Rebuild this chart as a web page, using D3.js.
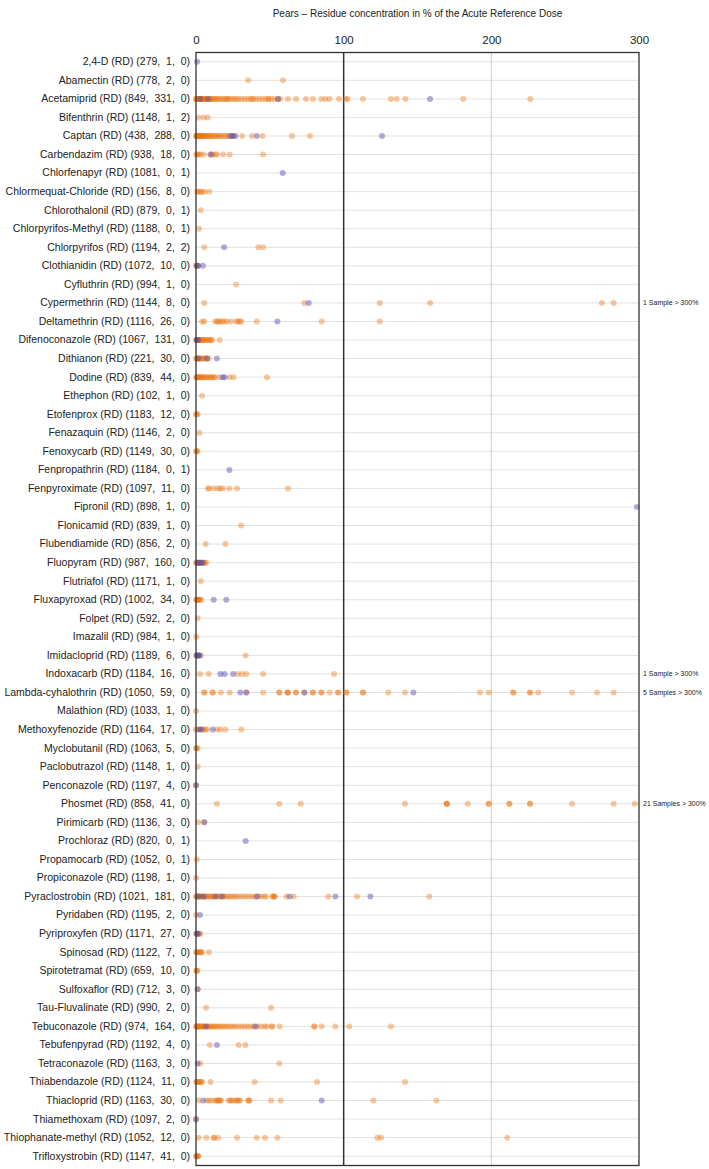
<!DOCTYPE html>
<html><head><meta charset="utf-8">
<script src="https://cdn.jsdelivr.net/npm/d3@7"></script>
<style>
body{margin:0;background:#fff;}
svg{display:block;}
text{font-family:"Liberation Sans",Arial,sans-serif;fill:#222;}
</style></head>
<body><svg id="chart" width="709" height="1169"></svg>
<script>
const title = "Pears \u2013 Residue concentration in % of the Acute Reference Dose";
const xTicks = [0, 100, 200, 300];
const substances = ["2,4-D","Abamectin","Acetamiprid","Bifenthrin","Captan","Carbendazim","Chlorfenapyr","Chlormequat-Chloride","Chlorothalonil","Chlorpyrifos-Methyl","Chlorpyrifos","Clothianidin","Cyfluthrin","Cypermethrin","Deltamethrin","Difenoconazole","Dithianon","Dodine","Ethephon","Etofenprox","Fenazaquin","Fenoxycarb","Fenpropathrin","Fenpyroximate","Fipronil","Flonicamid","Flubendiamide","Fluopyram","Flutriafol","Fluxapyroxad","Folpet","Imazalil","Imidacloprid","Indoxacarb","Lambda-cyhalothrin","Malathion","Methoxyfenozide","Myclobutanil","Paclobutrazol","Penconazole","Phosmet","Pirimicarb","Prochloraz","Propamocarb","Propiconazole","Pyraclostrobin","Pyridaben","Pyriproxyfen","Spinosad","Spirotetramat","Sulfoxaflor","Tau-Fluvalinate","Tebuconazole","Tebufenpyrad","Tetraconazole","Thiabendazole","Thiacloprid","Thiamethoxam","Thiophanate-methyl","Trifloxystrobin"];
const nSamples = [279,778,849,1148,438,938,1081,156,879,1188,1194,1072,994,1144,1116,1067,221,839,102,1183,1146,1149,1184,1097,898,839,856,987,1171,1002,592,984,1189,1184,1050,1033,1164,1063,1148,1197,858,1136,820,1052,1198,1021,1195,1171,1122,659,712,990,974,1192,1163,1124,1163,1097,1052,1147];
const nQuant = [1,2,331,1,288,18,0,8,0,0,2,10,1,8,26,131,30,44,1,12,2,30,0,11,1,1,2,160,1,34,2,1,6,16,59,1,17,5,1,4,41,3,0,0,1,181,2,27,7,10,3,2,164,4,3,11,30,2,12,41];
const nOther = [0,0,0,2,0,0,1,0,1,1,2,0,0,0,0,0,0,0,0,0,0,0,1,0,0,0,0,0,0,0,0,0,0,0,0,0,0,0,0,0,0,0,1,1,0,0,0,0,0,0,0,0,0,0,0,0,0,0,0,0];
const orangeVals = [
 [],
 [35.4,58.9],
 [0,0.3,0.6,1,1.3,1.7,2,2.4,2.8,3.2,3.7,4.2,4.8,5.3,6,6.6,7.3,8,8.8,9.5,10.3,11,12,13,14,15,16.2,17.5,18.8,20,21,21.5,23,24.5,26,27.5,29,31,33,35,37,38,39,41,43,45,47,49,49,51,53,55.5,57,62.3,67.7,74.5,79.2,84.9,87.8,90.5,96.8,101.6,102.7,113.1,132,135.9,141.8,181,226.4],
 [1.8,5.2,7.9],
 [0,0.3,0.6,1,1.4,1.8,2.2,2.7,3.2,3.7,4.3,5,5.6,6.3,7,7.8,8.6,9.4,10.3,11.2,12.2,13.2,14.3,15.4,16.5,17.7,19,20.3,21.6,23,24.5,26,31.2,37.9,44.9,65,77.2],
 [0,0.8,1.8,3,5.2,9.5,11,13.1,14.2,18.3,22.8,45.4],
 [],
 [0.7,1.8,2.9,4.1,5.9,9],
 [3.2],
 [2],
 [5.6,42.2,45.4],
 [0,0.6,1.2],
 [27.1],
 [5.6,73.4,124.4,158.5,274.9,282.8],
 [4.1,5.6,13.1,14.2,15.3,16.4,17.6,19.4,21,23.9,27.3,28.4,29.6,30.7,41.1,85.1,124.4],
 [0,0.4,0.8,1.2,1.7,2.2,2.7,3.3,4,4.7,5.5,6.3,7.2,8.1,9,10,11,16],
 [0,0.5,1,1.6,2.2,3,3.8,4.6,5.5,6.4,7.5,8.5],
 [0,0.5,1,1.5,2,2.7,3.4,4.2,5,6,7,8,9,10,11,12,13,16,22.8,25.5,48.1],
 [4.1],
 [0,0.5,1.1],
 [2.3],
 [0,0.5,1],
 [],
 [8.1,9,12,14.9,16.5,18.3,22.6,27.8,62.3],
 [],
 [30.5],
 [6.5,19.9],
 [0,0.5,1,1.5,2,2.6,3.2,3.8,4.5,5.2,6,7],
 [3.2],
 [0,0.5,1,1.5,2,2.8,3.6],
 [1.1],
 [0.2],
 [0,1,3.4,33.6],
 [2.7,8.6,28.2,31.2,34.1,45.4,93.5],
 [5.6,5.6,11.3,11.3,16.9,22.8,34.1,45.4,56.4,56.4,62.1,62.1,62.1,67.7,67.7,73.4,79.2,79.2,84.9,84.9,90.5,96.2,96.2,101.8,101.8,113.1,113.1,130.2,141.5,192.3,198.2,214.9,214.9,226.2,226.2,231.8,254.6,271.6,282.8],
 [0],
 [0,1,3.2,5,6.3,7.4,14.2,16.5,19.9,30.7],
 [0,0.5,1],
 [1.1],
 [0],
 [14.2,56.4,70.9,141.5,169.8,169.8,169.8,184,198.2,198.2,212.2,212.2,226.2,226.2,254.6,282.8,297.1],
 [1.4,5.6],
 [],
 [0.5],
 [0],
 [0,0.5,1,1.6,2.2,2.9,3.6,4.4,5.2,6,7,8,9,10,11,12,13.2,14.4,15.6,16.8,18,19.3,20.6,22,23.4,25,26.6,28,30,32,34,36,38,40,42,44,46,47.5,52,52,53.3,53.3,61.2,66.1,89.6,109,158],
 [0],
 [0,0.6,1.2,2,3],
 [0,0.6,1.2,2,2.8,3.6,4,8.8],
 [0,0.5,1],
 [1.1],
 [6.8,50.8],
 [0,0.4,0.8,1.3,1.8,2.4,3,3.6,4.3,5,5.8,6.6,7.5,8.4,9.4,10.4,11.5,12.6,13.8,15,16.3,17.6,19,20.5,22,23.6,25.3,27,29,31,33,35,37,39,41.5,44,46.5,48,51.5,51.5,56.7,80.1,80.1,85.1,94.4,103.8,132],
 [9.3,28.9,33.4],
 [2.9,56.4],
 [0,0.6,1.2,2,2.8,3.6,4,9.9,39.7,81.9,141.5],
 [1.8,7.4,9,10.8,13.1,14,14.8,15.6,16.4,16.9,22.1,23,24,25.5,27,28,29,30,35.2,35.8,36.3,50.8,57.3,120.1,162.8],
 [0],
 [1.8,7,12,12.4,15.1,27.8,41.1,46.7,55.1,122.8,125.3,210.8],
 [0,0.4,0.8,1.2,1.6]
];
const purpleVals = [
 [0.7],[],[2.9,8.1,55.5,158.5],[],[23.3,24.8,26.6,41.1,126],[10.2],[58.7],[],[],[],[19],
 [0.5,1.5,4.7],[],[76.3],[55.1],[0.5,1.5],[1.5,7.4,14.2],[18,19.4],[],[],[],[],[22.6],[],[298.6],
 [],[],[1,2,3.5,4.5],[],[12,20.5],[],[],[0.5,1.2,2,2.3],[16.5,19.4,25.1],[30,34.1,73.4,147.2],[],[2.3,3.6,11.3],[],[],[0],
 [],[5.6],[33.6],[],[],[1.8,5.2,13.1,17.6,41.3,63.4,94.4,118.1],[2.7],[0.5,1.5],[],[],[1.1],[],[6.8,40.2],[14.2],[1.1],
 [],[5,85.1],[0],[],[]
];
const overflowNotes = {"Cypermethrin":"1 Sample > 300%","Indoxacarb":"1 Sample > 300%","Lambda-cyhalothrin":"5 Samples > 300%","Phosmet":"21 Samples > 300%"};

const svg = d3.select("#chart");
const mLeft = 196, mRight = 639, mTop = 52.5, mBottom = 1165.5;
const x = d3.scaleLinear().domain([0, 300]).range([mLeft, mRight]);
const y = d3.scaleBand().domain(substances).range([mTop, mBottom]).padding(0);
const cy = d => y(d) + y.bandwidth() / 2;
const labelOf = {};
substances.forEach((s, i) => { labelOf[s] = `${s} (RD) (${nSamples[i]},\u00a0\u00a0${nQuant[i]},\u00a0\u00a0${nOther[i]})`; });

svg.append("text").attr("x", (mLeft + mRight) / 2).attr("y", 17).attr("text-anchor", "middle")
  .style("font-size", "10px").text(title);

// horizontal gridlines
svg.append("g").selectAll("line").data(substances).join("line")
  .attr("x1", mLeft).attr("x2", mRight).attr("y1", d => cy(d)).attr("y2", d => cy(d))
  .attr("stroke", "#e2e2e2").attr("stroke-width", 1);

// vertical grid
svg.append("line").attr("x1", x(200)).attr("x2", x(200)).attr("y1", mTop).attr("y2", mBottom)
  .attr("stroke", "#cfcfcf").attr("stroke-width", 1);
svg.append("line").attr("x1", x(100)).attr("x2", x(100)).attr("y1", mTop).attr("y2", mBottom)
  .attr("stroke", "#333").attr("stroke-width", 1.5);

// axes
const xAxis = svg.append("g").attr("transform", `translate(0,${mTop})`)
  .call(d3.axisTop(x).tickValues(xTicks).tickSize(0).tickPadding(9));
xAxis.select(".domain").remove();
xAxis.selectAll("text").style("font-size", "11.5px").style("font-family", "Liberation Sans, Arial, sans-serif").attr("fill", "#222");

const yAxis = svg.append("g").attr("transform", `translate(${mLeft},0)`)
  .call(d3.axisLeft(y).tickSize(0).tickPadding(6).tickFormat(d => labelOf[d]));
yAxis.select(".domain").remove();
yAxis.selectAll("text").style("font-size", "10.5px").style("font-family", "Liberation Sans, Arial, sans-serif").attr("fill", "#222");

// points
const orangePts = [], purplePts = [];
substances.forEach((s, i) => {
  orangeVals[i].forEach(v => orangePts.push({s, v}));
  purpleVals[i].forEach(v => purplePts.push({s, v}));
});
svg.append("g").selectAll("circle").data(orangePts).join("circle")
  .attr("cx", d => x(d.v)).attr("cy", d => cy(d.s)).attr("r", 3)
  .attr("fill", "rgb(236,112,8)").attr("fill-opacity", 0.38);
svg.append("g").selectAll("circle").data(purplePts).join("circle")
  .attr("cx", d => x(d.v)).attr("cy", d => cy(d.s)).attr("r", 3)
  .attr("fill", "rgb(85,75,175)").attr("fill-opacity", 0.45);

// box
svg.append("rect").attr("x", mLeft).attr("y", mTop).attr("width", mRight - mLeft).attr("height", mBottom - mTop)
  .attr("fill", "none").attr("stroke", "#333").attr("stroke-width", 1.3);

// overflow notes
svg.append("g").selectAll("text").data(Object.keys(overflowNotes)).join("text")
  .attr("x", mRight + 4).attr("y", d => cy(d) + 2.5)
  .style("font-size", "7px").text(d => overflowNotes[d]);
</script></body></html>
